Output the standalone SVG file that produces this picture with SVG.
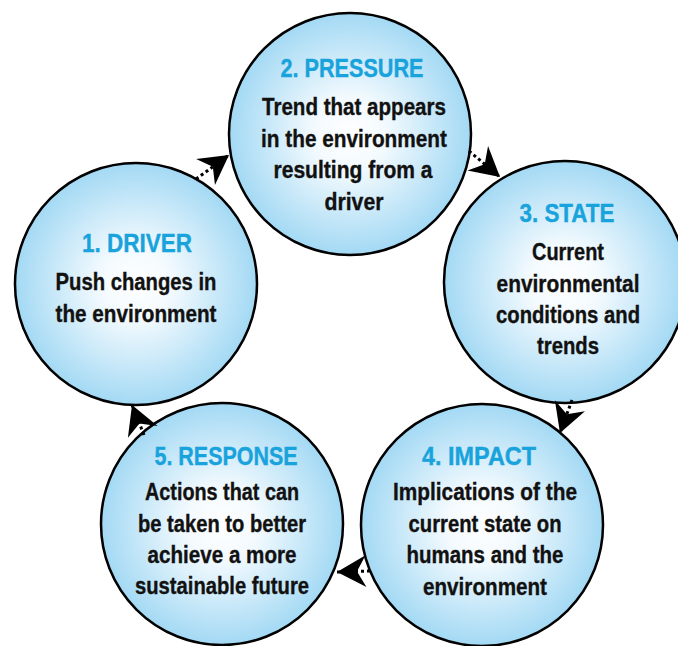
<svg xmlns="http://www.w3.org/2000/svg" width="678" height="646" viewBox="0 0 678 646">
<defs>
<radialGradient id="bubble" cx="50%" cy="50%" r="50%">
<stop offset="0" stop-color="#ffffff"/>
<stop offset="0.3" stop-color="#f3fafe"/>
<stop offset="1" stop-color="#a3d9f4"/>
</radialGradient>
<marker id="dart" markerUnits="userSpaceOnUse" markerWidth="40" markerHeight="40" viewBox="-32 -20 40 40" refX="0" refY="0" orient="auto">
<path d="M0,0 L-29,-16 L-20,0 L-29,16 Z" fill="#000"/>
</marker>
<style>
.c{fill:url(#bubble);stroke:#000;stroke-width:2.5}
.t{font-family:"Liberation Sans",Arial,sans-serif;font-weight:bold;font-size:26.5px;fill:#19a3dc;stroke:#19a3dc;stroke-width:0.4;text-anchor:middle}
.b{font-family:"Liberation Sans",Arial,sans-serif;font-weight:bold;font-size:23.5px;fill:#111;stroke:#111;stroke-width:0.35;text-anchor:middle}
.a{fill:none;stroke:#000;stroke-width:3;stroke-dasharray:3 3;marker-end:url(#dart)}
</style>
</defs>
<rect width="678" height="646" fill="#fff"/>
<g id="node-driver">
<circle class="c" cx="136" cy="284" r="121"/>
<text class="t" x="137" y="252" textLength="110" lengthAdjust="spacingAndGlyphs">1. DRIVER</text>
<text class="b" x="136" y="290" textLength="161" lengthAdjust="spacingAndGlyphs">Push changes in</text>
<text class="b" x="136" y="322" textLength="161" lengthAdjust="spacingAndGlyphs">the environment</text>
</g>
<g id="node-pressure">
<circle class="c" cx="350" cy="134" r="121"/>
<text class="t" x="352" y="77" textLength="143" lengthAdjust="spacingAndGlyphs">2. PRESSURE</text>
<text class="b" x="354" y="115" textLength="184" lengthAdjust="spacingAndGlyphs">Trend that appears</text>
<text class="b" x="354" y="147" textLength="186" lengthAdjust="spacingAndGlyphs">in the environment</text>
<text class="b" x="353" y="178" textLength="159" lengthAdjust="spacingAndGlyphs">resulting from a</text>
<text class="b" x="354" y="210" textLength="59" lengthAdjust="spacingAndGlyphs">driver</text>
</g>
<g id="node-state">
<circle class="c" cx="565" cy="282" r="121"/>
<text class="t" x="567" y="222" textLength="95" lengthAdjust="spacingAndGlyphs">3. STATE</text>
<text class="b" x="568" y="260" textLength="72" lengthAdjust="spacingAndGlyphs">Current</text>
<text class="b" x="568" y="292" textLength="143" lengthAdjust="spacingAndGlyphs">environmental</text>
<text class="b" x="568" y="323" textLength="144" lengthAdjust="spacingAndGlyphs">conditions and</text>
<text class="b" x="568" y="354" textLength="62" lengthAdjust="spacingAndGlyphs">trends</text>
</g>
<g id="node-impact">
<circle class="c" cx="482" cy="525" r="121"/>
<text class="t" x="479" y="465" textLength="114" lengthAdjust="spacingAndGlyphs">4. IMPACT</text>
<text class="b" x="485" y="500" textLength="184" lengthAdjust="spacingAndGlyphs">Implications of the</text>
<text class="b" x="485" y="532" textLength="153" lengthAdjust="spacingAndGlyphs">current state on</text>
<text class="b" x="485" y="563" textLength="157" lengthAdjust="spacingAndGlyphs">humans and the</text>
<text class="b" x="485" y="595" textLength="124" lengthAdjust="spacingAndGlyphs">environment</text>
</g>
<g id="node-response">
<circle class="c" cx="222" cy="524" r="121"/>
<text class="t" x="226" y="465" textLength="143" lengthAdjust="spacingAndGlyphs">5. RESPONSE</text>
<text class="b" x="222" y="500" textLength="154" lengthAdjust="spacingAndGlyphs">Actions that can</text>
<text class="b" x="222" y="532" textLength="168" lengthAdjust="spacingAndGlyphs">be taken to better</text>
<text class="b" x="222" y="563" textLength="149" lengthAdjust="spacingAndGlyphs">achieve a more</text>
<text class="b" x="222" y="594" textLength="174" lengthAdjust="spacingAndGlyphs">sustainable future</text>
</g>
<g id="connectors">
<path class="a" d="M196,179 L229,155"/>
<path class="a" d="M469,151 L500,177"/>
<path class="a" d="M572,400 L560,433"/>
<path class="a" d="M370,571 L337,572"/>
<path class="a" d="M144,435 L132,405"/>
</g>
</svg>
